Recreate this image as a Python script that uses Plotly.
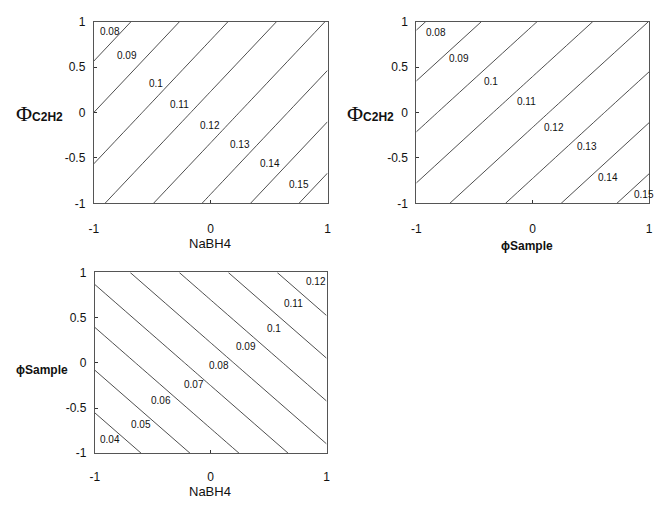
import plotly.graph_objects as go

# ---------------- data ----------------
coded = [-1, 0, 1]  # coded factor levels of grid

# Panel 1: response vs NaBH4 (x) and Phi C2H2 (y); rows = y -1,0,1
z_nabh4_c2h2 = [
    [0.1077, 0.1318, 0.1559],
    [0.0900, 0.1141, 0.1382],
    [0.0723, 0.0964, 0.1205],
]
# Panel 2: response vs phi Sample (x) and Phi C2H2 (y)
z_sample_c2h2 = [
    [0.1140, 0.1349, 0.1558],
    [0.0962, 0.1171, 0.1380],
    [0.0783, 0.0992, 0.1201],
]
# Panel 3: response vs NaBH4 (x) and phi Sample (y)
z_nabh4_sample = [
    [0.0405, 0.0642, 0.0878],
    [0.0617, 0.0853, 0.1089],
    [0.0828, 0.1064, 0.1301],
]

levels1 = [0.08, 0.09, 0.10, 0.11, 0.12, 0.13, 0.14, 0.15]
levels2 = [0.08, 0.09, 0.10, 0.11, 0.12, 0.13, 0.14, 0.15]
levels3 = [0.04, 0.05, 0.06, 0.07, 0.08, 0.09, 0.10, 0.11, 0.12]

level_text1 = ["0.08", "0.09", "0.1", "0.11", "0.12", "0.13", "0.14", "0.15"]
level_text2 = ["0.08", "0.09", "0.1", "0.11", "0.12", "0.13", "0.14", "0.15"]
level_text3 = ["0.04", "0.05", "0.06", "0.07", "0.08", "0.09", "0.1", "0.11", "0.12"]

x_tickvals = [-1, 0, 1]
x_ticktext = ["-1", "0", "1"]
y_tickvals = [-1, -0.5, 0, 0.5, 1]
y_ticktext = ["-1", "-0.5", "0", "0.5", "1"]

# ---------------- layout helpers ----------------
# label anchor positions (in axis units) beside each contour line
label_pos1 = [(-0.865, 0.893), (-0.713, 0.626), (-0.471, 0.316), (-0.268, 0.083),
              (-0.002, -0.141), (0.252, -0.355), (0.505, -0.558), (0.758, -0.789)]
label_pos2 = [(-0.833, 0.875), (-0.630, 0.590), (-0.362, 0.340), (-0.057, 0.120),
              (0.184, -0.166), (0.466, -0.372), (0.650, -0.711), (0.96, -0.900)]
label_pos3 = [(-0.867, -0.849), (-0.597, -0.677), (-0.427, -0.419), (-0.143, -0.240),
              (0.070, -0.025), (0.305, 0.180), (0.546, 0.380), (0.716, 0.656), (0.906, 0.900)]

W, H = 658, 506
FONT = "Liberation Sans, Arial, Helvetica, sans-serif"

def fx(px):
    return px / W

def fy(py):
    return 1 - py / H

def dom_x(a, b):
    return [fx(a), fx(b)]

def dom_y(top, bottom):
    return [fy(bottom), fy(top)]

fig = go.Figure()

def add_contour(z, levels, xa, ya):
    fig.add_trace(go.Contour(
        x=coded, y=coded, z=z,
        xaxis=xa, yaxis=ya,
        contours=dict(start=levels[0], end=levels[-1], size=0.01, coloring="lines"),
        colorscale=[[0, "#222"], [1, "#222"]],
        line=dict(width=0.8, smoothing=0),
        showscale=False, hoverinfo="skip",
    ))

add_contour(z_nabh4_c2h2, levels1, "x", "y")
add_contour(z_sample_c2h2, levels2, "x2", "y2")
add_contour(z_nabh4_sample, levels3, "x3", "y3")

def xaxis(domain, anchor, standoff=14):
    return dict(domain=domain, anchor=anchor, range=[-1, 1], tickvals=x_tickvals,
                ticktext=x_ticktext, ticks="inside", ticklen=3, tickcolor="#333",
                showline=True, mirror=True, linecolor="#555", linewidth=1,
                showgrid=False, zeroline=False, ticklabelstandoff=standoff,
                tickfont=dict(family=FONT, size=12, color="#111"))

def yaxis(domain, anchor):
    return dict(domain=domain, anchor=anchor, range=[-1, 1], tickvals=y_tickvals,
                ticktext=y_ticktext, ticks="inside", ticklen=3, tickcolor="#333",
                showline=True, mirror=True, linecolor="#555", linewidth=1,
                showgrid=False, zeroline=False, ticklabelstandoff=5,
                tickfont=dict(family=FONT, size=12, color="#111"))

fig.update_layout(
    width=W, height=H, autosize=False,
    margin=dict(l=0, r=0, t=0, b=0),
    paper_bgcolor="white", plot_bgcolor="white",
    showlegend=False,
    xaxis=xaxis(dom_x(90, 327), "y"),
    yaxis=yaxis(dom_y(15, 202), "x"),
    xaxis2=xaxis(dom_x(417, 653), "y2"),
    yaxis2=yaxis(dom_y(15, 202), "x2"),
    xaxis3=xaxis(dom_x(91, 326), "y3", standoff=12),
    yaxis3=yaxis(dom_y(273, 459), "x3"),
)

annotations = []
for texts, pos, xr, yr in [(level_text1, label_pos1, "x", "y"),
                           (level_text2, label_pos2, "x2", "y2"),
                           (level_text3, label_pos3, "x3", "y3")]:
    for t, (lx, ly) in zip(texts, pos):
        annotations.append(dict(x=lx, y=ly, xref=xr, yref=yr, text=t, showarrow=False,
                                xanchor="center", yanchor="middle",
                                font=dict(family=FONT, size=10, color="#111")))

phi_c2h2 = ("<span style='font-family:Liberation Serif, Times New Roman, serif;font-size:22px'>Φ</span>"
            "<b>C2H2</b>")

def title(px, py, text, xanchor="center", size=12):
    return dict(x=fx(px), y=fy(py), xref="paper", yref="paper", text=text,
                xanchor=xanchor, yanchor="middle", showarrow=False,
                font=dict(family=FONT, size=size, color="#111"))

annotations += [
    title(208, 243, "NaBH4", size=13),
    title(61, 110, phi_c2h2, xanchor="right"),
    title(396, 110, phi_c2h2, xanchor="right"),
    title(529, 246, "<b>ϕSample</b>"),
    title(66, 373, "<b>ϕSample</b>", xanchor="right"),
    title(208, 498, "NaBH4", size=13),
]
fig.update_layout(annotations=annotations)

fig.write_html("out.html",
               config={"displayModeBar": False},
               post_script="document.body.style.margin='0';document.body.style.overflow='hidden';")
